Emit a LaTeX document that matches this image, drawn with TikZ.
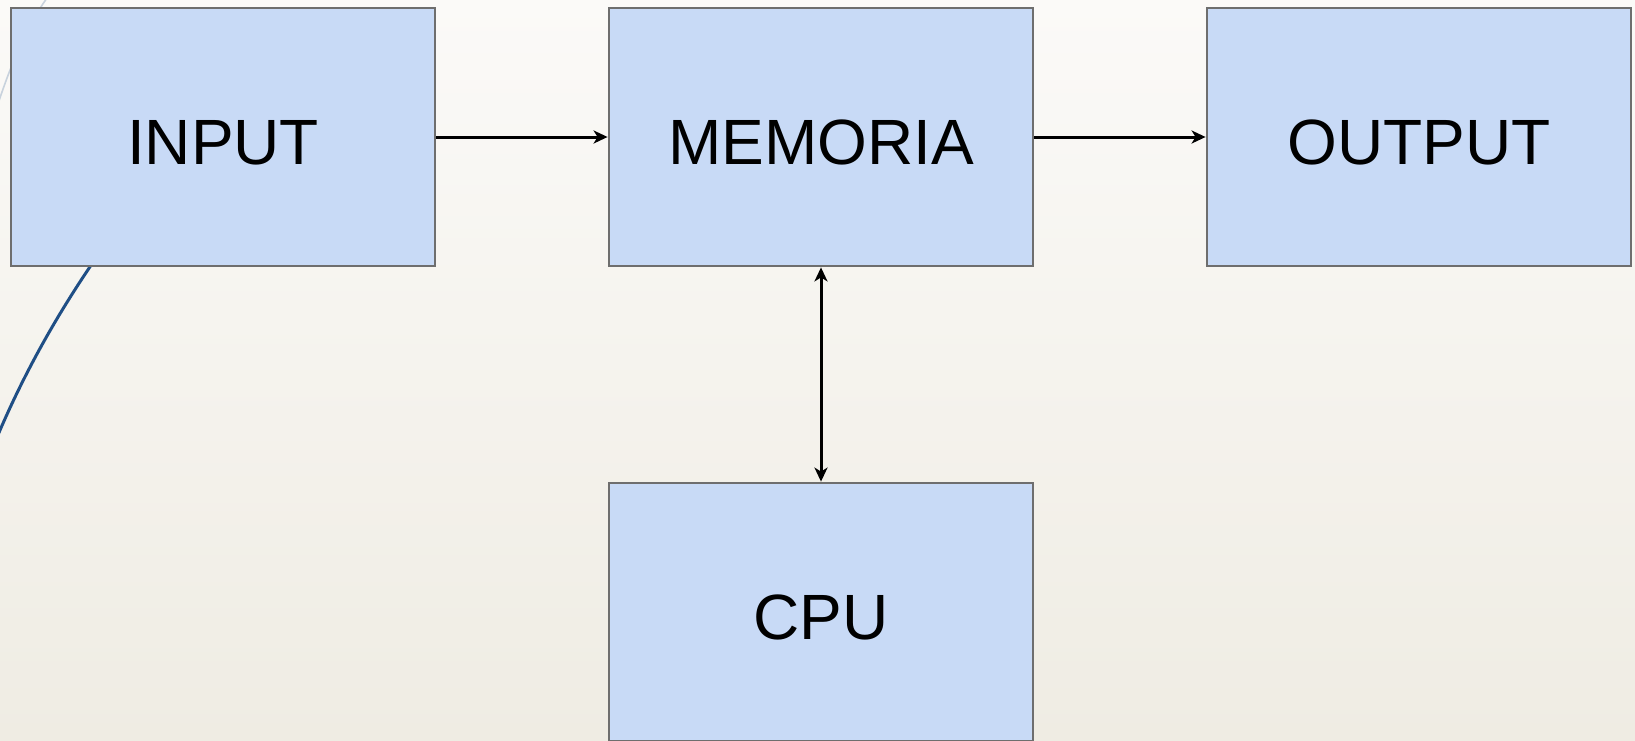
\documentclass[tikz,border=0pt]{standalone}
\usepackage{fontspec}
\setmainfont{Liberation Sans}
\usetikzlibrary{arrows.meta}
\definecolor{bgtop}{HTML}{FBFAF8}
\definecolor{bgbot}{HTML}{EFECE3}
\definecolor{boxfill}{HTML}{C8DAF6}
\definecolor{boxline}{HTML}{6E6E6E}
\definecolor{curvedark}{HTML}{1F4E85}
\definecolor{curvelight}{HTML}{C8D2DD}
\tikzset{
  unitbox/.style={draw=boxline, fill=boxfill, line width=1.4pt,
    minimum width=212pt, minimum height=129pt, inner sep=0pt,
    text height=27.6pt, text depth=0pt,
    font=\fontsize{32}{38}\selectfont},
  arr/.style={draw=black, line width=1.5pt,
    -{Stealth[length=7pt, width=6.5pt, inset=2pt]}},
  biarr/.style={draw=black, line width=1.5pt,
    {Stealth[length=7pt, width=6.5pt, inset=2pt]}-{Stealth[length=7pt, width=6.5pt, inset=2pt]}}
}
\begin{document}
\begin{tikzpicture}[x=0.5pt, y=-0.5pt]
\useasboundingbox (0,0) rectangle (1635,740);
\shade[top color=bgtop, bottom color=bgbot] (0,0) rectangle (1635,740);
% decorative curves
\draw[curvelight, line width=0.8pt] (-4,110) .. controls (12,60) and (30,20) .. (50,-6);
\draw[curvedark, line width=1.5pt] (-5,442) .. controls (27,365) and (70,290) .. (130,211);
% boxes
\node[unitbox] (in)  at (223,137) {INPUT};
\node[unitbox] (mem) at (821,137) {MEMORIA};
\node[unitbox] (out) at (1419,137) {OUTPUT};
\node[unitbox] (cpu) at (821,612) {CPU};
% connectors
\draw[arr] (in.east) -- (mem.west);
\draw[arr] (mem.east) -- (out.west);
\draw[biarr] (mem.south) -- (cpu.north);
\end{tikzpicture}
\end{document}
